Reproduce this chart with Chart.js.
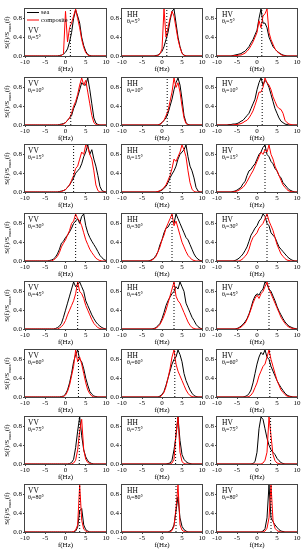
<!DOCTYPE html>
<html>
<head>
<meta charset="utf-8">
<script src="https://cdn.jsdelivr.net/npm/chart.js@4.4.0/dist/chart.umd.min.js"></script>
<style>
  html, body { margin: 0; padding: 0; background: #fff; }
  #wrap { position: relative; width: 307px; height: 550px; overflow: hidden; }
  #wrap canvas { position: absolute; }
</style>
</head>
<body>
<div id="wrap"></div>
<script>
// frequency grid (Hz), shared by every spectrum
const FREQ = [-10,-9.5,-9,-8.5,-8,-7.5,-7,-6.5,-6,-5.5,-5,-4.5,-4,-3.5,-3,-2.5,-2,-1.5,-1,-0.5,0,0.5,1,1.5,2,2.5,3,3.5,4,4.5,5,5.5,6,6.5,7,7.5,8,8.5,9,9.5,10];
const POLS = ['VV', 'HH', 'HV'];
const ANGLES = [5, 10, 15, 30, 45, 60, 75, 80];
const BRAGG = [1.2, 1.3, 2.0, 2.5, 3.0, 3.2, 3.4, 3.5];
const X_TICKS = [-10, -5, 0, 5, 10];
const Y_TICKS = [0, 0.2, 0.4, 0.6, 0.8, 1.0];

// normalised spectra, sea only / composite (ship + sea)
const SEA_VV_5  = [0,0,0,0,0,0,0,0,0,0, 0,0,0,0,0,0,0,.01,.02,.04, .08,.15,.3,.5,.8,.98,.85,.7,.4,.22, .1,.03,.01,0,0,0,0,0,0,0, 0];
const COMP_VV_5 = [0,0,0,0,0,0,0,0,0,0, 0,0,0,0,0,0,0,0,.01,.05, .95,.3,.6,.7,.85,1,.8,.6,.35,.18, .07,.02,0,0,0,0,0,0,0,0, 0];
const SEA_HH_5  = [0,0,0,0,0,0,0,0,0,0, 0,0,0,0,0,0,0,.01,.02,.05, .1,.2,.35,.5,.75,.95,1,.7,.4,.2, .06,.02,0,0,0,0,0,0,0,0, 0];
const COMP_HH_5 = [0,0,0,0,0,0,0,0,0,0, 0,0,0,0,0,0,0,0,.01,.05, .15,1,.4,.6,.8,.95,.85,.6,.35,.18, .06,.01,0,0,0,0,0,0,0,0, 0];
const SEA_HV_5  = [0,0,0,0,0,0,0,0,.01,.02, .03,.04,.05,.08,.1,.15,.2,.28,.35,.45, .55,.8,1,.7,.7,.6,.4,.3,.2,.15, .1,.07,.04,.02,.01,0,0,0,0,0, 0];
const COMP_HV_5 = [0,0,0,0,0,0,0,0,0,.01, .01,.02,.02,.04,.06,.1,.15,.22,.3,.4, .5,.75,.6,.85,.9,1,.5,.35,.25,.15, .1,.06,.03,.01,0,0,0,0,0,0, 0];

const SEA_VV_10  = [0,0,0,0,0,0,0,0,0,0, 0,0,0,0,0,0,0,.01,.02,.03, .05,.1,.15,.2,.35,.45,.6,.75,.9,.85, .85,1,.75,.45,.15,.04,.01,0,0,0, 0];
const COMP_VV_10 = [0,0,0,0,0,0,0,0,0,0, 0,0,0,0,0,0,0,0,.01,.02, .05,.1,.15,.25,.4,.5,.65,.85,1,.85, .95,.7,.45,.2,.05,.01,0,0,0,0, 0];
const SEA_HH_10  = [0,0,0,0,0,0,0,0,0,0, 0,0,0,0,0,0,0,0,0,.02, .05,.1,.15,.25,.4,.55,.75,.9,1,.85, .55,.2,.05,.01,0,0,0,0,0,0, 0];
const COMP_HH_10 = [0,0,0,0,0,0,0,0,0,0, 0,0,0,0,0,0,0,0,0,.01, .05,.1,.2,.3,.5,.7,1,.8,.9,.7, .4,.15,.03,0,0,0,0,0,0,0, 0];
const SEA_HV_10  = [0,0,0,0,0,0,.01,.01,.02,.02, .03,.05,.08,.1,.15,.2,.25,.35,.45,.55, .75,.9,1,.85,.95,.9,.8,.65,.5,.35, .25,.15,.08,.05,.02,.01,0,0,0,0, 0];
const COMP_HV_10 = [0,0,0,0,0,0,0,0,0,.01, .01,.02,.03,.05,.08,.1,.15,.22,.3,.42, .55,.7,.7,.8,1,.9,.85,.75,.6,.5, .4,.35,.33,.25,.1,.05,.02,.01,0,0, 0];

const SEA_VV_15  = [0,0,0,0,0,0,0,0,0,0, 0,0,0,0,0,0,0,.01,.02,.03, .05,.1,.15,.22,.3,.4,.45,.5,.6,.75, .85,1,.8,.9,.7,.55,.35,.12,.03,.01, 0];
const COMP_VV_15 = [0,0,0,0,0,0,0,0,0,0, 0,0,0,0,0,0,0,0,.01,.03, .05,.1,.15,.25,.35,.5,.55,.7,.85,.8, 1,.95,.8,.7,.45,.15,.03,0,0,0, 0];
const SEA_HH_15  = [0,0,0,0,0,0,0,0,0,0, 0,0,0,0,0,0,0,0,.01,.02, .04,.08,.12,.2,.3,.38,.45,.55,.7,.8, .85,.9,1,.75,.55,.45,.3,.1,.02,0, 0];
const COMP_HH_15 = [0,0,0,0,0,0,0,0,0,0, 0,0,0,0,0,0,0,0,.01,.03, .05,.1,.15,.25,.35,.5,.7,.65,.75,.85, 1,.9,.75,.45,.2,.06,.01,0,0,0, 0];
const SEA_HV_15  = [0,0,0,0,0,0,0,0,.01,.02, .04,.07,.1,.18,.22,.35,.45,.48,.55,.6, .7,.8,.85,.95,1,.8,.75,.65,.6,.5, .45,.35,.3,.2,.15,.1,.05,.03,.01,0, 0];
const COMP_HV_15 = [0,0,0,0,0,0,0,0,0,.01, .02,.04,.07,.1,.15,.22,.3,.38,.45,.55, .65,.75,.85,.8,.9,.85,1,.8,.7,.55, .45,.35,.25,.15,.1,.05,.02,.01,0,0, 0];

const SEA_VV_30  = [0,0,0,0,0,0,0,0,0,0, 0,0,.01,.02,.04,.08,.15,.25,.38,.42, .5,.55,.62,.7,.8,.85,.9,.8,.95,1, .75,.6,.5,.42,.35,.28,.2,.12,.07,.03, .01];
const COMP_VV_30 = [0,0,0,0,0,0,0,0,0,0, 0,0,0,0,.02,.05,.1,.18,.3,.38, .45,.55,.65,.8,.85,1,.9,.85,.75,.6, .45,.35,.25,.18,.12,.06,.03,.01,0,0, 0];
const SEA_HH_30  = [0,0,0,0,0,0,0,0,0,0, 0,0,0,0,.01,.03,.06,.12,.2,.35, .45,.6,.7,.72,.8,.85,.8,1,.9,.8, .7,.6,.5,.45,.35,.25,.15,.08,.04,.01, 0];
const COMP_HH_30 = [0,0,0,0,0,0,0,0,0,0, 0,0,0,0,0,.02,.05,.1,.2,.3, .45,.55,.7,.8,.9,1,.75,.85,.7,.55, .4,.3,.2,.12,.07,.03,.01,0,0,0, 0];
const SEA_HV_30  = [0,0,0,0,0,0,0,0,0,.01, .03,.06,.1,.15,.22,.3,.42,.55,.62,.7, .75,.85,.9,1,.95,.8,.75,.6,.55,.5, .4,.3,.25,.2,.15,.1,.06,.03,.01,0, 0];
const COMP_HV_30 = [0,0,0,0,0,0,0,0,0,0, 0,0,.02,.05,.1,.15,.25,.4,.5,.55, .6,.7,.75,.8,.9,1,.85,.75,.65,.5, .35,.25,.15,.1,.05,.02,.01,0,0,0, 0];

const SEA_VV_45  = [0,0,0,0,0,0,0,0,0,0, 0,0,0,0,0,.01,.03,.06,.12,.25, .4,.55,.7,.85,1,.9,.95,1,.9,.8, .6,.5,.4,.3,.22,.15,.1,.06,.03,.01, 0];
const COMP_VV_45 = [0,0,0,0,0,0,0,0,0,0, 0,0,0,0,0,0,0,.02,.05,.1, .18,.3,.4,.5,.6,.75,1,.8,.75,.65, .5,.4,.3,.2,.12,.07,.03,.01,0,0, 0];
const SEA_HH_45  = [0,0,0,0,0,0,0,0,0,0, 0,0,0,0,0,0,.01,.03,.07,.12, .22,.35,.5,.6,.68,.75,.8,.9,.85,1, .9,.8,.55,.45,.35,.25,.18,.1,.05,.02, 0];
const COMP_HH_45 = [0,0,0,0,0,0,0,0,0,0, 0,0,0,0,0,0,0,.02,.05,.1, .18,.28,.4,.55,.7,.85,1,.7,.6,.55, .45,.35,.25,.15,.08,.03,.01,0,0,0, 0];
const SEA_HV_45  = [0,0,0,0,0,0,0,0,0,0, .01,.03,.06,.1,.15,.22,.32,.45,.6,.7, .75,.72,.8,.85,1,.95,.85,.8,.7,.6, .48,.38,.3,.22,.15,.1,.06,.04,.02,.01, 0];
const COMP_HV_45 = [0,0,0,0,0,0,0,0,0,0, 0,.02,.04,.08,.12,.2,.3,.42,.55,.65, .72,.65,.75,.8,.9,1,.85,.75,.65,.55, .45,.35,.25,.18,.12,.07,.04,.02,.01,0, 0];

const SEA_VV_60  = [0,0,0,0,0,0,0,0,0,0, 0,0,0,0,0,0,0,0,.01,.02, .06,.15,.3,.5,.75,.9,1,.8,.75,.6, .4,.25,.12,.06,.02,.01,0,0,0,0, 0];
const COMP_VV_60 = [0,0,0,0,0,0,0,0,0,0, 0,0,0,0,0,0,0,0,0,.01, .04,.12,.25,.45,.65,1,.75,.85,.7,.5, .3,.15,.07,.02,0,0,0,0,0,0, 0];
const SEA_HH_60  = [0,0,0,0,0,0,0,0,0,0, 0,0,0,0,0,0,0,0,0,.02, .05,.12,.25,.4,.55,.7,.8,.85,1,.9, .75,.5,.35,.25,.15,.08,.03,.01,0,0, 0];
const COMP_HH_60 = [0,0,0,0,0,0,0,0,0,0, 0,0,0,0,0,0,0,0,0,0, .04,.1,.22,.4,.6,.85,1,.7,.55,.45, .35,.25,.15,.08,.03,.01,0,0,0,0, 0];
const SEA_HV_60  = [0,0,0,0,0,0,0,0,0,0, 0,0,0,0,.01,.03,.07,.15,.3,.5, .7,.85,.95,.9,1,.85,.8,.65,.55,.45, .35,.27,.2,.14,.08,.04,.02,.01,0,0, 0];
const COMP_HV_60 = [0,0,0,0,0,0,0,0,0,0, 0,0,0,0,0,0,.01,.04,.1,.2, .3,.45,.55,.65,.7,.85,1,.8,.65,.5, .35,.25,.15,.1,.05,.02,.01,0,0,0, 0];

const SEA_VV_75  = [0,0,0,0,0,0,0,0,0,0, 0,0,0,0,0,0,0,0,0,0, 0,0,.01,.03,.1,.35,.7,1,.6,.3, .15,.07,.03,.01,0,0,0,0,0,0, 0];
const COMP_VV_75 = [0,0,0,0,0,0,0,0,0,0, 0,0,0,0,0,0,0,0,0,0, 0,0,0,0,.02,.08,.3,.7,.95,.3, .1,.03,.01,0,0,0,0,0,0,0, 0];
const SEA_HH_75  = [0,0,0,0,0,0,0,0,0,0, 0,0,0,0,0,0,0,0,0,0, 0,0,0,.01,.02,.08,.3,.6,1,.5, .2,.1,.05,.02,.01,0,0,0,0,0, 0];
const COMP_HH_75 = [0,0,0,0,0,0,0,0,0,0, 0,0,0,0,0,0,0,0,0,0, 0,0,0,0,0,.02,.1,.65,1,.25, .05,.01,0,0,0,0,0,0,0,0, 0];
const SEA_HV_75  = [0,0,0,0,0,0,0,0,0,0, 0,0,0,0,0,0,0,0,.01,.05, .25,.75,1,.95,.75,.55,.4,.3,.25,.2, .12,.07,.03,.01,0,0,0,0,0,0, 0];
const COMP_HV_75 = [0,0,0,0,0,0,0,0,0,0, 0,0,0,0,0,0,0,0,0,0, 0,0,0,.02,.08,.25,1,.6,.2,.07, .02,.01,0,0,0,0,0,0,0,0, 0];

const SEA_VV_80  = [0,0,0,0,0,0,0,0,0,0, 0,0,0,0,0,0,0,0,0,0, 0,0,0,0,0,.02,.1,.45,.5,.15, .05,.02,0,0,0,0,0,0,0,0, 0];
const COMP_VV_80 = [0,0,0,0,0,0,0,0,0,0, 0,0,0,0,0,0,0,0,0,0, 0,0,0,0,.01,.04,.15,1,.25,.06, .02,0,0,0,0,0,0,0,0,0, 0];
const SEA_HH_80  = [0,0,0,0,0,0,0,0,0,0, 0,0,0,0,0,0,0,0,0,0, 0,0,0,0,.02,.05,.15,.45,.75,.3, .12,.05,.02,0,0,0,0,0,0,0, 0];
const COMP_HH_80 = [0,0,0,0,0,0,0,0,0,0, 0,0,0,0,0,0,0,0,0,0, 0,0,0,0,0,.03,.12,.5,1,.15, .04,.01,0,0,0,0,0,0,0,0, 0];
const SEA_HV_80  = [0,0,0,0,0,0,0,0,0,0, 0,0,0,0,0,0,0,0,0,0, 0,0,0,.02,.07,.3,1,.3,.22,.15, .1,.05,.02,.01,0,0,0,0,0,0, 0];
const COMP_HV_80 = [0,0,0,0,0,0,0,0,0,0, 0,0,0,0,0,0,0,0,0,0, 0,0,0,0,.02,.08,.3,1,.25,.08, .03,.01,0,0,0,0,0,0,0,0, 0];

// rows = incidence angle, columns = polarisation
const SEA = [
  [SEA_VV_5, SEA_HH_5, SEA_HV_5],
  [SEA_VV_10, SEA_HH_10, SEA_HV_10],
  [SEA_VV_15, SEA_HH_15, SEA_HV_15],
  [SEA_VV_30, SEA_HH_30, SEA_HV_30],
  [SEA_VV_45, SEA_HH_45, SEA_HV_45],
  [SEA_VV_60, SEA_HH_60, SEA_HV_60],
  [SEA_VV_75, SEA_HH_75, SEA_HV_75],
  [SEA_VV_80, SEA_HH_80, SEA_HV_80]
];
const COMP = [
  [COMP_VV_5, COMP_HH_5, COMP_HV_5],
  [COMP_VV_10, COMP_HH_10, COMP_HV_10],
  [COMP_VV_15, COMP_HH_15, COMP_HV_15],
  [COMP_VV_30, COMP_HH_30, COMP_HV_30],
  [COMP_VV_45, COMP_HH_45, COMP_HV_45],
  [COMP_VV_60, COMP_HH_60, COMP_HV_60],
  [COMP_VV_75, COMP_HH_75, COMP_HV_75],
  [COMP_VV_80, COMP_HH_80, COMP_HV_80]
];

// page layout of the plot areas
const COL_LEFT = [25, 122, 217];
const COL_W = [81, 80, 80];
const ROW_TOP = [9, 78, 145, 214, 282, 350, 417, 485];
const PLOT_H = 47;
const PAD_L = 25, PAD_T = 6, PAD_R = 10, PAD_B = 22;
const SERIF = '"Liberation Serif", "Times New Roman", serif';

function drawRuns(ctx, runs, x, y) {
  let cx = x;
  for (const [t, size, dy] of runs) {
    ctx.font = size + 'px ' + SERIF;
    ctx.fillText(t, cx, y + dy);
    cx += ctx.measureText(t).width;
  }
  return cx - x;
}

function runsWidth(ctx, runs) {
  let w = 0;
  for (const [t, size] of runs) {
    ctx.font = size + 'px ' + SERIF;
    w += ctx.measureText(t).width;
  }
  return w;
}

const decor = {
  id: 'decor',
  afterDraw(chart, args, o) {
    const { ctx, chartArea: a } = chart;
    ctx.save();
    ctx.strokeStyle = '#444';
    ctx.lineWidth = 1;
    ctx.strokeRect(a.left - 0.5, a.top - 0.5, a.right - a.left + 1, a.bottom - a.top + 1);

    ctx.fillStyle = '#000';
    ctx.textBaseline = 'middle';
    ctx.textAlign = 'left';
    const x0 = a.left + (o.col === 0 ? 3 : 5);
    let ly = a.top + 6;

    if (o.legend) {
      ctx.lineWidth = 1;
      ctx.strokeStyle = '#000';
      ctx.beginPath(); ctx.moveTo(a.left + 2, a.top + 3.5); ctx.lineTo(a.left + 14, a.top + 3.5); ctx.stroke();
      ctx.strokeStyle = '#ff0000';
      ctx.beginPath(); ctx.moveTo(a.left + 2, a.top + 11); ctx.lineTo(a.left + 14, a.top + 11); ctx.stroke();
      drawRuns(ctx, [['sea', 6.5, 0]], a.left + 16, a.top + 3.5);
      drawRuns(ctx, [['composite', 6.5, 0]], a.left + 16, a.top + 11);
      ly = a.top + 22;
    }

    drawRuns(ctx, [[o.pol, 7.5, 0]], x0, ly);
    drawRuns(ctx, [['θ', 6, 0], ['i', 4.5, 1.5], ['=' + o.angle + '°', 6, 0]], x0, ly + 6.5);

    ctx.textAlign = 'left';
    const fx = [['f(Hz)', 7, 0]];
    drawRuns(ctx, fx, (a.left + a.right) / 2 - runsWidth(ctx, fx) / 2, a.bottom + 13.5);

    if (o.col === 0) {
      const yt = [['S(f)/S', 7, 0], ['max', 5, 1.8], ['(f)', 7, 0]];
      ctx.translate(a.left - 17.5, (a.top + a.bottom) / 2);
      ctx.rotate(-Math.PI / 2);
      drawRuns(ctx, yt, -runsWidth(ctx, yt) / 2, 0);
    }
    ctx.restore();
  }
};

const wrap = document.getElementById('wrap');

function points(values) {
  return FREQ.map((f, i) => ({ x: f, y: values[i] }));
}

function makePanel(r, c) {
  const canvas = document.createElement('canvas');
  canvas.width = PAD_L + COL_W[c] + PAD_R;
  canvas.height = PAD_T + PLOT_H + PAD_B;
  canvas.style.left = (COL_LEFT[c] - PAD_L) + 'px';
  canvas.style.top = (ROW_TOP[r] - PAD_T) + 'px';
  wrap.appendChild(canvas);

  const tickFont = { family: SERIF, size: 7 };
  new Chart(canvas, {
    type: 'line',
    data: {
      datasets: [
        {
          label: 'bragg',
          data: [{ x: BRAGG[r], y: 0 }, { x: BRAGG[r], y: 1 }],
          borderColor: '#000',
          borderWidth: 1,
          borderDash: [1, 2],
          order: 0
        },
        {
          label: 'composite',
          data: points(COMP[r][c]),
          borderColor: '#ff0000',
          borderWidth: 1,
          order: 1
        },
        {
          label: 'sea',
          data: points(SEA[r][c]),
          borderColor: '#000',
          borderWidth: 1,
          order: 2
        }
      ]
    },
    options: {
      responsive: false,
      animation: false,
      events: [],
      elements: { point: { radius: 0 }, line: { tension: 0 } },
      layout: { padding: { left: 0, top: PAD_T, right: PAD_R, bottom: PAD_B - 10 } },
      scales: {
        x: {
          type: 'linear',
          min: -10,
          max: 10,
          afterBuildTicks: s => { s.ticks = X_TICKS.map(v => ({ value: v })); },
          afterFit: s => { s.height = 10; },
          ticks: { font: tickFont, color: '#000', padding: 0, maxRotation: 0, autoSkip: false },
          grid: { drawOnChartArea: false, tickLength: 2, color: '#444' },
          border: { display: false }
        },
        y: {
          min: 0,
          max: 1,
          afterBuildTicks: s => { s.ticks = Y_TICKS.map(v => ({ value: v })); },
          afterFit: s => { s.width = PAD_L; },
          ticks: { font: tickFont, color: '#000', padding: 1, callback: v => v.toFixed(1) },
          grid: { drawOnChartArea: false, tickLength: 2, color: '#444' },
          border: { display: false }
        }
      },
      plugins: {
        legend: { display: false },
        tooltip: { enabled: false },
        decor: { col: c, pol: POLS[c], angle: ANGLES[r], legend: r === 0 && c === 0 }
      }
    },
    plugins: [decor]
  });
}

for (let r = 0; r < ANGLES.length; r++) {
  for (let c = 0; c < POLS.length; c++) makePanel(r, c);
}
</script>
</body>
</html>
